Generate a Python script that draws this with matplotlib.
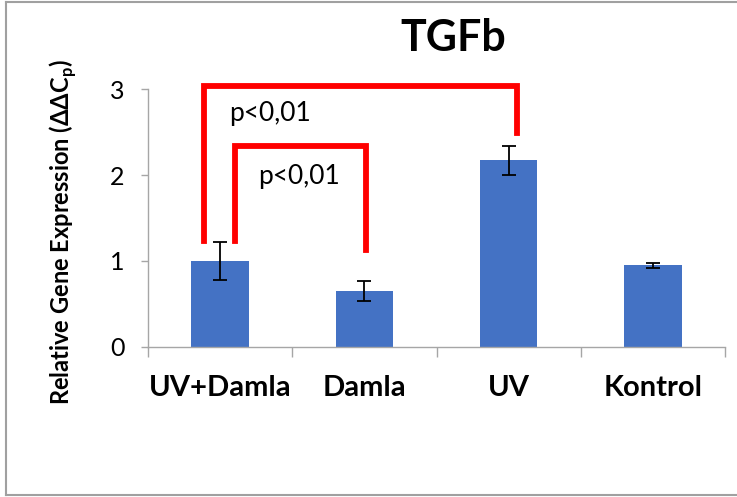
import numpy as np
import matplotlib.pyplot as plt
from matplotlib.lines import Line2D

plt.rcParams['font.family'] = ['Lato', 'DejaVu Sans']

# datos de expresion relativa (ddCp)
grupos = ['UV+Damla', 'Damla', 'UV', 'Kontrol']
valores = [1.00, 0.65, 2.17, 0.95]
errores = [0.22, 0.12, 0.17, 0.03]

# corchetes de significancia: (x izq, x der, y izq, y der, y arriba), texto
corchetes = [(-0.11, 2.06, 1.23, 2.49, 3.035),
             (0.10, 1.01, 1.23, 1.13, 2.34)]
textos_p = [(0.06, 2.72, 'p<0,01'), (0.26, 1.98, 'p<0,01')]

azul = '#4472C4'
gris = '#A6A6A6'

fig = plt.figure(figsize=(7.37, 4.97), dpi=100)
ax = fig.add_axes([148/737, 1-347/497, (725-148)/737, (347-89)/497])

x = np.arange(len(grupos))
ax.bar(x, valores, width=0.40, color=azul, zorder=2)
ax.errorbar(x, valores, yerr=errores, fmt='none', ecolor='black',
            elinewidth=1.3, capsize=5, capthick=1.3, zorder=3)

ax.set_xlim(-0.5, 3.5)
ax.set_ylim(0, 3)
ax.set_yticks([0, 1, 2, 3])
ax.tick_params(axis='y', labelsize=18, length=5, color=gris, width=1, pad=12)
ax.set_xticks(x)
ax.set_xticklabels(grupos, fontsize=21, fontweight='bold')
ax.set_xticks(np.arange(-0.5, 4, 1), minor=True)
ax.tick_params(axis='x', which='major', length=0, pad=20)
ax.tick_params(axis='x', which='minor', length=7.2, color=gris, width=1)
for s in ['top', 'right']:
    ax.spines[s].set_visible(False)
for s in ['left', 'bottom']:
    ax.spines[s].set_color(gris)
    ax.spines[s].set_linewidth(1)

ax.set_ylabel('Relative Gene Expression (ΔΔC$_\\mathregular{p}$)',
              fontsize=17, fontweight='bold', va='center')
ax.yaxis.set_label_coords(-0.147, 0.446)

# corchetes rojos
for xi, xd, yi, yd, yt in corchetes:
    ax.plot([xi, xi, xd, xd], [yi, yt, yt, yd], color='red', lw=4.2,
            solid_joinstyle='miter', clip_on=False, zorder=4)
for tx, ty, t in textos_p:
    ax.text(tx, ty, t, fontsize=19, va='center', ha='left')

fig.text(453/737, 1-38/497, 'TGFb', fontsize=31, fontweight='bold',
         ha='center', va='center')

# marco del grafico
bx0, by0, by1 = 6/737, 2/497, 1-2/497
for xs, ys in [([bx0, bx0], [by0, by1]), ([bx0, 1], [by1, by1]),
               ([bx0, 1], [by0, by0])]:
    fig.add_artist(Line2D(xs, ys, color='#A0A0A0', lw=1.5))

fig.savefig('out.png', dpi=100)
